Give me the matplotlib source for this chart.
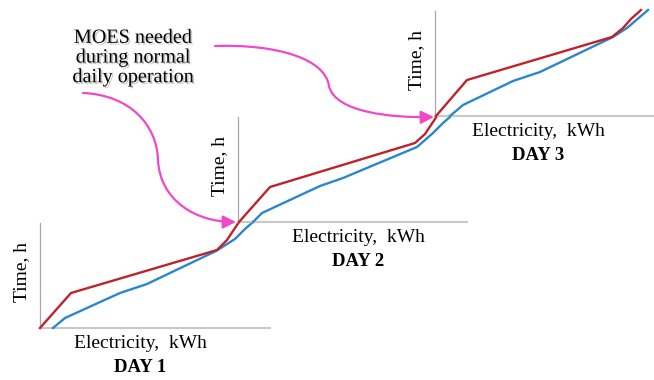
import matplotlib
matplotlib.use('Agg')
import matplotlib.pyplot as plt
import matplotlib.patheffects as pe
from matplotlib.path import Path
from matplotlib.patches import FancyArrowPatch

# each day panel: electricity (x) vs time (y), in panel units
days = ['DAY 1', 'DAY 2', 'DAY 3']

red_x = [[0, 31, 177, 187, 195, 199],
         [1, 32, 177, 187, 195, 199],
         [1, 32, 177, 188, 196, 206]]
red_y = [[0, 35, 78, 88, 100, 106],
         [0, 35, 79, 88, 100, 106],
         [0, 36, 79, 88, 97, 106]]

blue_x = [[13, 25, 80, 107, 176, 195, 205, 213],
          [15, 24, 82, 105, 179, 195, 205, 213],
          [15, 28, 78, 105, 178, 192, 213]]
blue_y = [[0, 10, 35, 44, 77, 89, 99, 106],
          [0, 9, 36, 44, 75, 89, 99, 106],
          [0, 11, 35, 44, 79, 88, 106]]

note = 'MOES needed\nduring normal\ndaily operation'

W, H = 654, 380
RED = '#c0222b'
BLUE = '#2b87cc'
PINK = '#f048c8'
SERIF = 'Liberation Serif'

fig = plt.figure(figsize=(W / 100, H / 100), dpi=100)

# panel origins (pixels from top-left) and x-axis lengths
origins = [(40, 328), (238, 222), (435, 116)]
widths = [230, 229, 218]
xlab_dx = [100, 120, 103]

for i in range(3):
    ox, oy = origins[i]
    ax = fig.add_axes([ox / W, (H - oy) / H, widths[i] / W, 105 / H])
    ax.set_xlim(0, widths[i])
    ax.set_ylim(0, 105)
    ax.patch.set_alpha(0)
    for s in ['top', 'right']:
        ax.spines[s].set_visible(False)
    ax.spines['left'].set_color('#a8a8a8')
    ax.spines['left'].set_linewidth(0.9)
    ax.spines['bottom'].set_color('#c8c8c8')
    ax.spines['bottom'].set_linewidth(1.5)
    ax.set_xticks([])
    ax.set_yticks([])
    ax.plot(blue_x[i], blue_y[i], color=BLUE, lw=1.7, clip_on=False, zorder=3)
    ax.plot(red_x[i], red_y[i], color=RED, lw=1.7, clip_on=False, zorder=4)
    ax.text(-18, 56, 'Time, h', rotation=90, ha='center', va='center',
            fontsize=14, family=SERIF)
    ax.text(xlab_dx[i], -15, 'Electricity,  kWh', ha='center', va='center',
            fontsize=14, family=SERIF)
    ax.text(xlab_dx[i], -39, days[i], ha='center', va='center',
            fontsize=13.5, family=SERIF, weight='bold')

# overlay in pixel units for the annotation
ov = fig.add_axes([0, 0, 1, 1])
ov.set_xlim(0, W)
ov.set_ylim(H, 0)
ov.axis('off')
ov.patch.set_alpha(0)

ov.text(133, 58, note, ha='center', va='center', fontsize=14.5,
        family=SERIF, linespacing=1.05,
        path_effects=[pe.withSimplePatchShadow(offset=(1.2, -1.2),
                                               shadow_rgbFace='#888888',
                                               alpha=0.45)])

C4 = Path.CURVE4
p1 = Path([(83, 93), (130, 95), (157, 125), (158, 160),
           (160, 200), (195, 222), (236, 222)],
          [Path.MOVETO, C4, C4, C4, C4, C4, C4])
p2 = Path([(215, 46), (275, 44), (325, 58), (329, 86),
           (335, 112), (390, 118), (434, 117)],
          [Path.MOVETO, C4, C4, C4, C4, C4, C4])
for p in [p1, p2]:
    ov.add_patch(FancyArrowPatch(path=p, arrowstyle='-|>,head_length=0.6,head_width=0.3',
                                 mutation_scale=13, color=PINK, lw=1.6))

fig.savefig('out.png', dpi=100)
